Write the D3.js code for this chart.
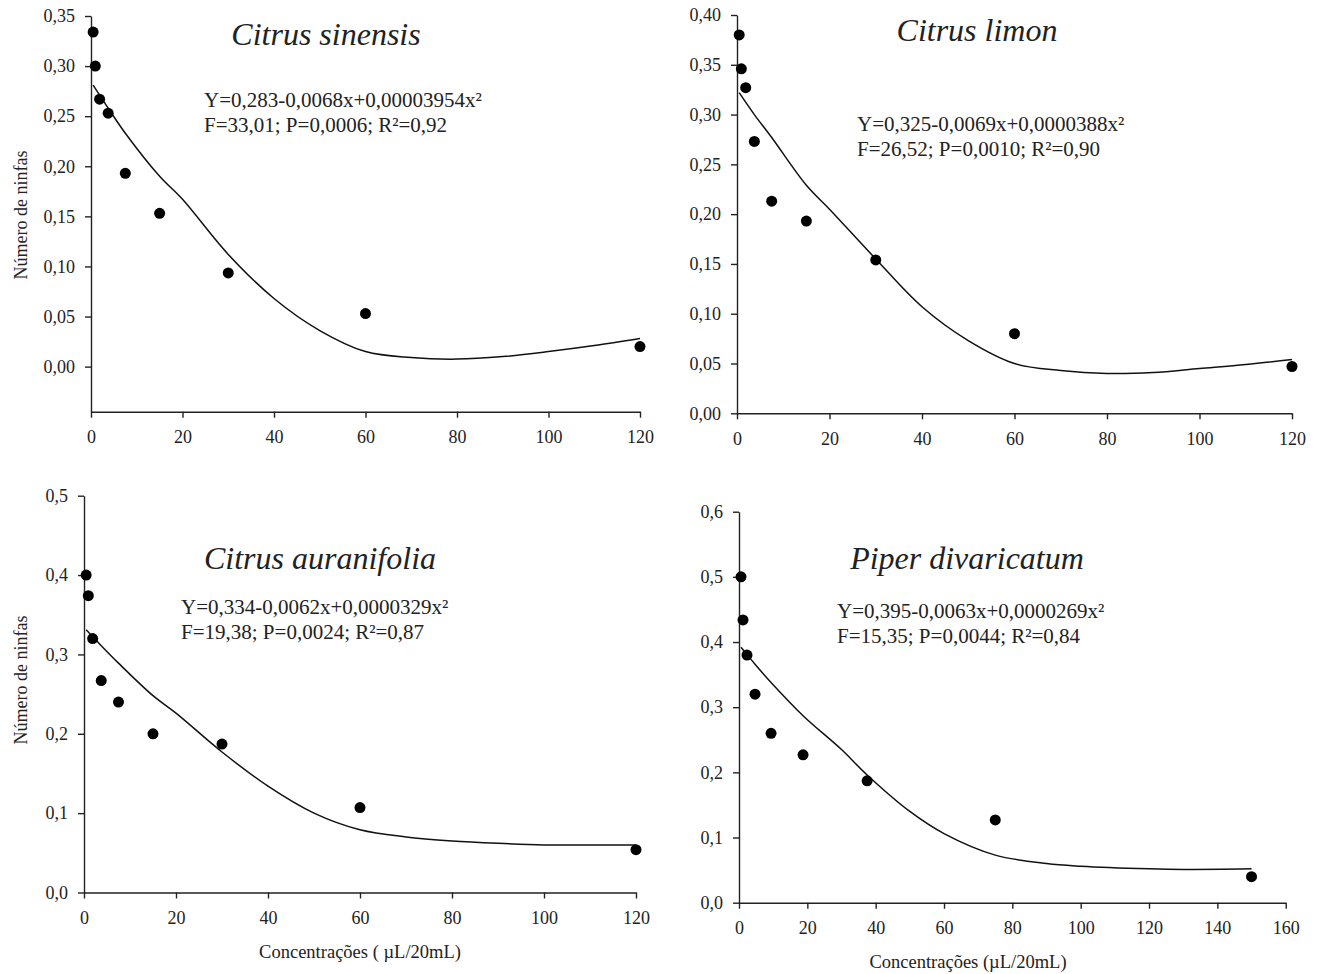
<!DOCTYPE html>
<html>
<head>
<meta charset="utf-8">
<script src="https://cdn.jsdelivr.net/npm/d3@7"></script>
<style>
  body { margin: 0; background: #fff; }
  text { font-family: "Liberation Serif", "Times New Roman", serif; fill: #222; }
</style>
</head>
<body>
<div id="container"></div>
<script>
// concentrations (uL/20mL)
const concCitrus = [0.47, 0.94, 1.88, 3.75, 7.5, 15, 30, 60, 120];
const concPiper = [0.59, 1.17, 2.34, 4.69, 9.38, 18.75, 37.5, 75, 150];

// observed number of nymphs
const sinensisObs = [0.334, 0.300, 0.267, 0.253, 0.193, 0.153, 0.0935, 0.053, 0.020];
const limonObs = [0.380, 0.346, 0.327, 0.273, 0.213, 0.193, 0.154, 0.080, 0.047];
const auranifoliaObs = [0.400, 0.374, 0.320, 0.267, 0.240, 0.200, 0.187, 0.107, 0.054];
const piperObs = [0.500, 0.434, 0.380, 0.320, 0.260, 0.227, 0.187, 0.127, 0.040];

// fitted line
const fitXCitrus = [0.47, 3.75, 7.5, 15, 20, 30, 40, 50, 60, 70, 80, 90, 100, 110, 120];
const fitXPiper = [0.59, 2.34, 4.69, 9.38, 18.75, 30, 37.5, 50, 60, 75, 90, 100, 120, 130, 150];
const sinensisFit = [0.281, 0.258, 0.233, 0.190, 0.167, 0.112, 0.068, 0.036, 0.015, 0.009, 0.0075, 0.010, 0.015, 0.021, 0.028];
const limonFit = [0.322, 0.300, 0.277, 0.229, 0.205, 0.155, 0.107, 0.073, 0.050, 0.043, 0.040, 0.041, 0.045, 0.049, 0.054];
const auranifoliaFit = [0.331, 0.311, 0.289, 0.248, 0.226, 0.177, 0.134, 0.100, 0.079, 0.070, 0.065, 0.062, 0.060, 0.060, 0.060];
const piperFit = [0.392, 0.381, 0.366, 0.338, 0.287, 0.235, 0.196, 0.140, 0.106, 0.073, 0.060, 0.056, 0.052, 0.051, 0.052];

// texts
const titles = ['Citrus sinensis', 'Citrus limon', 'Citrus auranifolia', 'Piper divaricatum'];
const equations = [
  ['Y=0,283-0,0068x+0,00003954x²', 'F=33,01; P=0,0006; R²=0,92'],
  ['Y=0,325-0,0069x+0,0000388x²', 'F=26,52; P=0,0010; R²=0,90'],
  ['Y=0,334-0,0062x+0,0000329x²', 'F=19,38; P=0,0024; R²=0,87'],
  ['Y=0,395-0,0063x+0,0000269x²', 'F=15,35; P=0,0044; R²=0,84']
];
const yLabel = 'Número de ninfas';
const xLabels = ['Concentrações ( µL/20mL)', 'Concentrações (µL/20mL)'];

const width = 1319;
const height = 974;

const svg = d3.select('#container').append('svg')
  .attr('width', width)
  .attr('height', height)
  .style('background-color', 'white');

const comma = f => v => d3.format(f)(v).replace('.', ',');

const panels = [
  { title: titles[0], eq: equations[0], x: concCitrus, obs: sinensisObs, fx: fitXCitrus, fit: sinensisFit,
    xDom: [0, 120], xRange: [91, 640], yDom: [-0.045, 0.35], yRange: [411.7, 16],
    yTicks: d3.range(0, 0.351, 0.05), fmt: comma('.2f'),
    titlePos: [326, 45], eqPos: [204, 107], yLab: [22, 215] },
  { title: titles[1], eq: equations[1], x: concCitrus, obs: limonObs, fx: fitXCitrus, fit: limonFit,
    xDom: [0, 120], xRange: [737, 1292], yDom: [0, 0.40], yRange: [413.3, 15],
    yTicks: d3.range(0, 0.401, 0.05), fmt: comma('.2f'),
    titlePos: [977, 41], eqPos: [857, 131] },
  { title: titles[2], eq: equations[2], x: concCitrus, obs: auranifoliaObs, fx: fitXCitrus, fit: auranifoliaFit,
    xDom: [0, 120], xRange: [84, 636], yDom: [0, 0.5], yRange: [892.5, 495.7],
    yTicks: d3.range(0, 0.51, 0.1), fmt: comma('.1f'),
    titlePos: [320, 569], eqPos: [181, 614], yLab: [22, 680], xLab: [xLabels[0], 360, 958] },
  { title: titles[3], eq: equations[3], x: concPiper, obs: piperObs, fx: fitXPiper, fit: piperFit,
    xDom: [0, 160], xRange: [739, 1285.7], yDom: [0, 0.6], yRange: [902.7, 511.7],
    yTicks: d3.range(0, 0.61, 0.1), fmt: comma('.1f'),
    titlePos: [967, 569], eqPos: [837, 618], xLab: [xLabels[1], 968, 968] }
];

panels.forEach(p => {
  const x = d3.scaleLinear().domain(p.xDom).range(p.xRange);
  const y = d3.scaleLinear().domain(p.yDom).range(p.yRange);
  const g = svg.append('g');
  const y0 = p.yRange[0];

  // axes
  const xAxis = g.append('g')
    .attr('transform', `translate(0,${y0})`)
    .call(d3.axisBottom(x).ticks(p.xDom[1] / 20).tickSize(6).tickPadding(13).tickSizeOuter(0));
  const yAxis = g.append('g')
    .attr('transform', `translate(${p.xRange[0]},0)`)
    .call(d3.axisLeft(y).tickValues(p.yTicks).tickFormat(p.fmt).tickSize(6).tickPadding(10).tickSizeOuter(0));

  [xAxis, yAxis].forEach(a => {
    a.selectAll('path, line').attr('stroke', '#222').attr('stroke-width', 1.4);
    a.selectAll('text').attr('font-size', 18).attr('font-family', '"Liberation Serif", serif').attr('fill', '#222');
  });

  // fitted line
  g.append('path')
    .datum(p.fx.map((d, i) => [d, p.fit[i]]))
    .attr('fill', 'none')
    .attr('stroke', '#111')
    .attr('stroke-width', 1.5)
    .attr('d', d3.line().x(d => x(d[0])).y(d => y(d[1])).curve(d3.curveCatmullRom.alpha(0.5)));

  // observed points
  g.selectAll('circle')
    .data(p.x.map((d, i) => [d, p.obs[i]]))
    .enter().append('circle')
    .attr('cx', d => x(d[0]))
    .attr('cy', d => y(d[1]))
    .attr('r', 5.5)
    .attr('fill', '#000');

  g.append('text')
    .attr('x', p.titlePos[0])
    .attr('y', p.titlePos[1])
    .attr('text-anchor', 'middle')
    .attr('font-style', 'italic')
    .attr('font-size', 32)
    .attr('fill', '#000')
    .text(p.title);

  g.selectAll('.eq')
    .data(p.eq)
    .enter().append('text')
    .attr('class', 'eq')
    .attr('x', p.eqPos[0])
    .attr('y', (d, i) => p.eqPos[1] + i * 25)
    .attr('font-size', 21)
    .text(d => d);

  if (p.yLab) {
    g.append('text')
      .attr('transform', `translate(${p.yLab[0] + 5},${p.yLab[1]}) rotate(-90)`)
      .attr('text-anchor', 'middle')
      .attr('font-size', 18)
      .text(yLabel);
  }
  if (p.xLab) {
    g.append('text')
      .attr('x', p.xLab[1])
      .attr('y', p.xLab[2])
      .attr('text-anchor', 'middle')
      .attr('font-size', 18.5)
      .text(p.xLab[0]);
  }
});
</script>
</body>
</html>
